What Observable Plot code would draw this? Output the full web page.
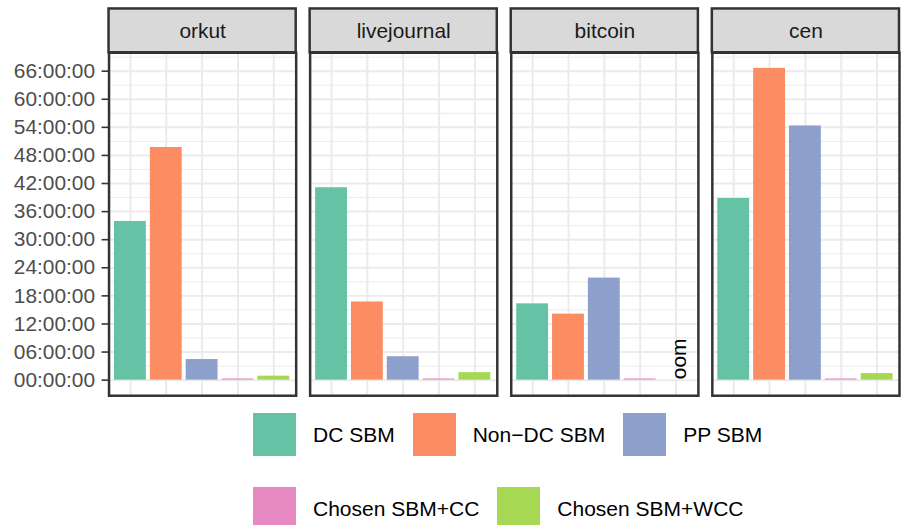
<!DOCTYPE html>
<html><head><meta charset="utf-8">
<script src="https://cdn.jsdelivr.net/npm/d3@7"></script>
<script src="https://cdn.jsdelivr.net/npm/@observablehq/plot@0.6"></script>
<style>
html,body{margin:0;padding:0;background:#fff;overflow:hidden;}
#wrap{position:relative;width:902px;height:525px;overflow:hidden;}
#chart svg{overflow:visible;}
#legend{position:absolute;left:253px;top:413px;}
.leg-swatches-wrap{display:flex;flex-wrap:wrap;width:540px;row-gap:31px;font-family:"Liberation Sans",Arial,sans-serif;font-size:21px;color:#000;margin:0;}
.leg-swatch{margin-right:18px !important;}
.leg-swatch > svg{margin-right:17px !important;}
</style></head><body><div id="wrap"><div id="chart"></div><div id="legend"></div></div>
<script>
const graphs = ["orkut", "livejournal", "bitcoin", "cen"];
const methods = ["DC SBM", "Non\u2212DC SBM", "PP SBM", "Chosen SBM+CC", "Chosen SBM+WCC"];
const colors = ["#66c2a5", "#fc8d62", "#8da0cb", "#e78ac3", "#a6d854"];
// runtime in hours, per graph (orkut, livejournal, bitcoin, cen)
const dcSBM = [33.9, 41.1, 16.3, 38.8];
const nonDcSBM = [49.7, 16.7, 14.1, 66.6];
const ppSBM = [4.4, 5.0, 21.8, 54.3];
const chosenCC = [0.25, 0.25, 0.25, 0.25];
const chosenWCC = [0.85, 1.6, null, 1.4];
const yTicks = [0, 6, 12, 18, 24, 30, 36, 42, 48, 54, 60, 66];
const yMinor = [3, 9, 15, 21, 27, 33, 39, 45, 51, 57, 63, 69];
const oomLabels = [{graph: "bitcoin", method: "Chosen SBM+WCC", text: "oom"}];

const series = [dcSBM, nonDcSBM, ppSBM, chosenCC, chosenWCC];
const data = [];
graphs.forEach((g, gi) => methods.forEach((m, mi) => {
  const v = series[mi][gi];
  if (v != null) data.push({graph: g, method: m, hours: v});
}));

const fmt = d => String(d).padStart(2, "0") + ":00:00";
const FONT = '"Liberation Sans", Arial, Helvetica, sans-serif';
const STRIP_H = 44;

const strip = (index, scales, values, dim) => {
  const w = dim.width - dim.marginLeft - dim.marginRight;
  return d3.create("svg:rect")
    .attr("x", dim.marginLeft).attr("y", dim.marginTop - STRIP_H)
    .attr("width", w).attr("height", STRIP_H)
    .attr("fill", "#d9d9d9").attr("stroke", "#333").attr("stroke-width", 2.5)
    .node();
};

const chart = Plot.plot({
  width: 906,
  height: 400,
  marginLeft: 107.5,
  marginRight: 1.5,
  marginTop: 52.5,
  marginBottom: 3,
  style: {fontFamily: FONT, fontSize: "21px", background: "transparent"},
  fx: {domain: graphs, paddingInner: 0.0705, paddingOuter: 0, axis: null, label: null},
  x: {domain: methods, paddingInner: 0.1, paddingOuter: 0.15, axis: null, label: null},
  y: {domain: [-3.33, 69.93], label: null},
  color: {domain: methods, range: colors},
  marks: [
    strip,
    Plot.gridY(yMinor, {stroke: "#ebebeb", strokeOpacity: 1, strokeWidth: 1}),
    Plot.gridY(yTicks, {stroke: "#ebebeb", strokeOpacity: 1, strokeWidth: 2}),
    Plot.gridX(methods, {stroke: "#ebebeb", strokeOpacity: 1, strokeWidth: 2}),
    Plot.barY(data, {fx: "graph", x: "method", y: "hours", fill: "method"}),
    Plot.text(oomLabels, {fx: "graph", x: "method", y: 0, text: "text", rotate: -90, textAnchor: "start", lineAnchor: "middle", dx: 3, dy: -1, fill: "#000", fontSize: 21}),
    Plot.frame({stroke: "#333", strokeWidth: 2.5}),
    Plot.text(graphs, {fx: d => d, text: d => d, frameAnchor: "top", lineAnchor: "middle", dy: -21.5, fill: "#1a1a1a", fontSize: 21}),
    Plot.axisY(yTicks, {anchor: "left", tickFormat: fmt, tickSize: 7, tickPadding: 7, stroke: "#333", strokeWidth: 1.6, fill: "#4d4d4d", fontSize: 21, label: null})
  ]
});
document.getElementById("chart").appendChild(chart);

const leg = Plot.legend({
  color: {domain: methods, range: colors},
  legend: "swatches",
  swatchSize: 43,
  className: "leg"
});
document.getElementById("legend").appendChild(leg);
</script></body></html>
